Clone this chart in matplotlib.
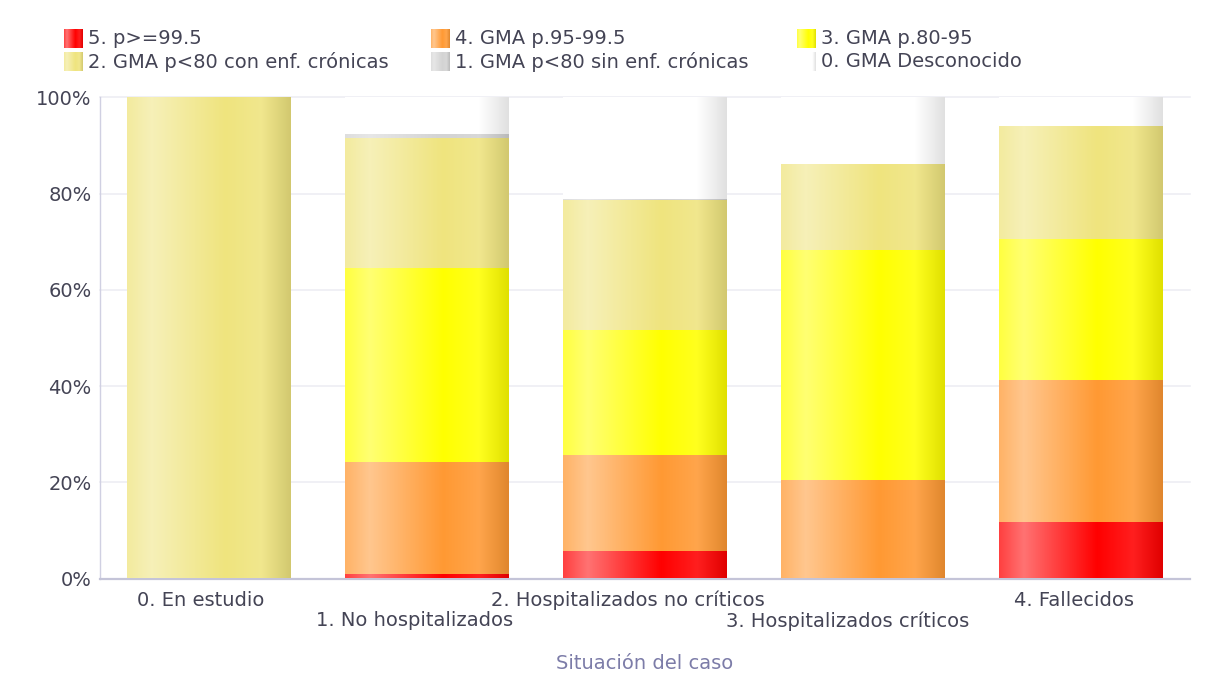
import matplotlib

matplotlib.use("Agg")
import matplotlib.pyplot as plt
import numpy as np
from matplotlib.colors import LinearSegmentedColormap, to_rgb
from matplotlib.transforms import ScaledTranslation


CASES = [
    "0. En estudio",
    "1. No hospitalizados",
    "2. Hospitalizados no críticos",
    "3. Hospitalizados críticos",
    "4. Fallecidos",
]
SEGMENTS = [
    "5. p>=99.5",
    "4. GMA p.95-99.5",
    "3. GMA p.80-95",
    "2. GMA p<80 con enf. crónicas",
    "1. GMA p<80 sin enf. crónicas",
    "0. GMA Desconocido",
]
# percent of each case, stacked bottom -> top
P995 = [0, 0.9, 5.8, 0, 11.7]
P95 = [0, 23.3, 19.9, 20.4, 29.5]
P80 = [0, 40.3, 25.9, 47.8, 29.4]
CON_CRON = [100, 27.0, 27.0, 18.0, 23.4]
SIN_CRON = [0, 0.9, 0.4, 0, 0]
DESCONOCIDO = [0, 7.6, 21.0, 13.8, 6.0]
VALUES = [P995, P95, P80, CON_CRON, SIN_CRON, DESCONOCIDO]
COLORS = ["#ff0000", "#ff9933", "#ffff00", "#efe47e", "#d3d3d3", "#ffffff"]
Y_TICKS = [0, 20, 40, 60, 80, 100]

TEXT = "#444455"
GRAD = np.linspace(0, 1, 256).reshape(1, -1)


def shade(rgb: np.ndarray, f: float) -> np.ndarray:
    if f >= 0:
        return rgb + (1 - rgb) * f
    return rgb * (1 + f)


def gradient_cmap(color: str) -> LinearSegmentedColormap:
    base = np.array(to_rgb(color))
    stops = [(0.0, 0.25), (0.15, 0.45), (0.6, 0.0), (0.82, 0.12), (1.0, -0.12)]
    return LinearSegmentedColormap.from_list("g", [(p, shade(base, f)) for p, f in stops])


def main() -> None:
    plt.rcParams["font.family"] = ["DejaVu Sans"]
    fig = plt.figure(figsize=(12.05, 6.81), dpi=100)
    ax = fig.add_axes([100 / 1205, 102.5 / 681, 1090 / 1205, 481 / 681])

    x = np.arange(len(CASES))
    bottom = np.zeros(len(CASES))
    for vals, color in zip(VALUES, COLORS):
        bars = ax.bar(x, vals, width=0.75, bottom=bottom, color=color, linewidth=0, zorder=2)
        cmap = gradient_cmap(color)
        for rect in bars:
            if rect.get_height() <= 0:
                continue
            x0, y0 = rect.get_x(), rect.get_y()
            ax.imshow(GRAD, cmap=cmap, aspect="auto", interpolation="bilinear",
                      extent=(x0, x0 + rect.get_width(), y0, y0 + rect.get_height()), zorder=3)
        bottom += np.array(vals)

    ax.set_xlim(-0.5, 4.5)
    ax.set_ylim(0, 100)
    ax.set_yticks(Y_TICKS)
    ax.set_yticklabels([f"{v}%" for v in Y_TICKS])
    ax.yaxis.grid(True, color="#ececf3", linewidth=1.1, zorder=0, clip_on=False)
    ax.set_axisbelow(True)
    ax.set_xticks(x)
    ax.set_xticklabels([])
    ax.tick_params(axis="both", length=0, labelsize=14, labelcolor=TEXT)
    ax.tick_params(axis="y", pad=6)

    # staggered category labels, nudged left like the original
    renderer = fig.canvas.get_renderer()
    for i, name in enumerate(CASES):
        dy = -12 if i % 2 == 0 else -33
        t = ax.text(x[i], 0, name, fontsize=14, color=TEXT, ha="center", va="top",
                    transform=ax.get_xaxis_transform())
        w = t.get_window_extent(renderer).width
        t.set_transform(ax.get_xaxis_transform()
                        + ScaledTranslation(-0.062 * w / 100, dy / 100, fig.dpi_scale_trans))

    for side in ["top", "right"]:
        ax.spines[side].set_visible(False)
    ax.spines["bottom"].set_color("#c4c4d8")
    ax.spines["bottom"].set_linewidth(1.6)
    ax.spines["left"].set_color("#d0d0e2")
    ax.spines["left"].set_linewidth(1.0)

    ax.set_xlabel("Situación del caso", fontsize=14, color="#7c7ca8")
    ax.xaxis.set_label_coords(0.5, -0.156)

    # legend drawn on a pixel overlay
    over = fig.add_axes([0, 0, 1, 1])
    over.set_xlim(0, 1205)
    over.set_ylim(681, 0)
    over.axis("off")
    col_x = [64, 431, 797]
    row_y = [29, 52]
    for k, (label, color) in enumerate(zip(SEGMENTS, COLORS)):
        r, c = divmod(k, 3)
        px, py = col_x[c], row_y[r]
        over.imshow(GRAD, cmap=gradient_cmap(color), aspect="auto", interpolation="bilinear",
                    extent=(px, px + 19, py + 19, py))
        over.text(px + 24, py + 9.5, label, fontsize=14, color=TEXT, va="center", ha="left")
    over.set_xlim(0, 1205)
    over.set_ylim(681, 0)

    fig.savefig("out.png", dpi=100)
    plt.close(fig)


if __name__ == "__main__":
    main()
